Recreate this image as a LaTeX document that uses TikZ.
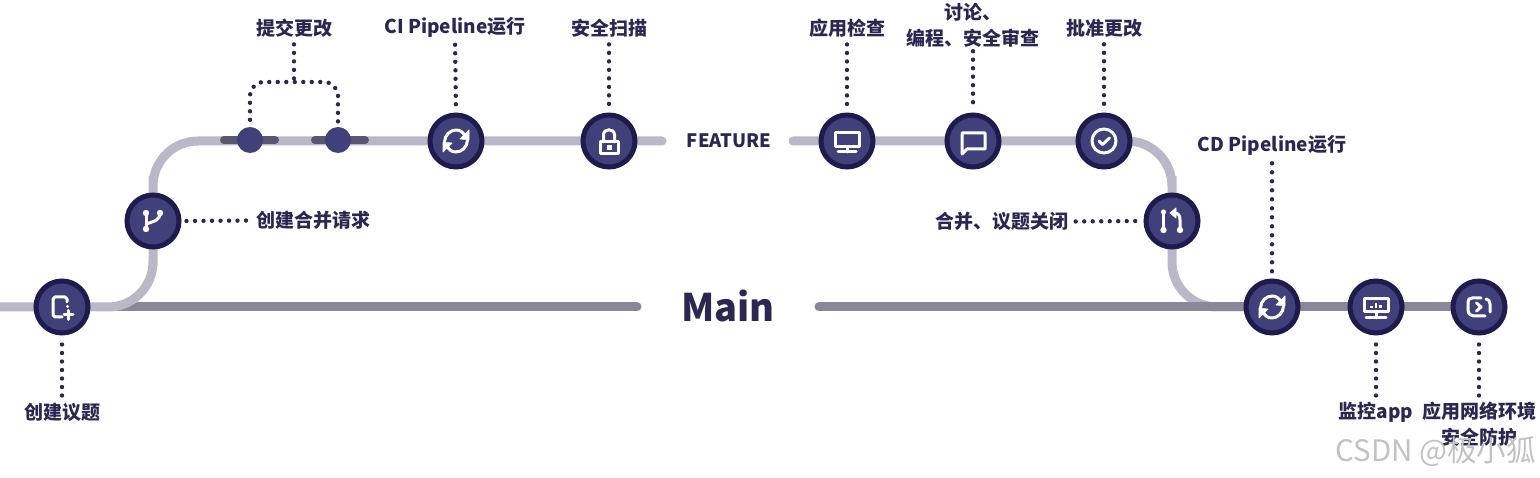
\documentclass[tikz,border=0pt]{standalone}
\usepackage{fontspec}
\setmainfont{Noto Sans CJK SC}
\usetikzlibrary{backgrounds}
\definecolor{lightln}{HTML}{BAB8C6}
\definecolor{darkln}{HTML}{8A8798}
\definecolor{segln}{HTML}{5A5570}
\definecolor{disc}{HTML}{40407A}
\definecolor{rim}{HTML}{1F1B4C}
\definecolor{ink}{HTML}{2A2850}
\tikzset{
  stage/.style={circle,fill=disc,draw=rim,line width=5pt,minimum size=52pt,inner sep=0pt},
  commit/.style={circle,fill=disc,minimum size=26pt,inner sep=0pt},
  lab/.style={font=\fontsize{19}{25.5}\selectfont\bfseries,text=ink,align=center,inner sep=0pt},
  dotln/.style={draw=ink,line width=4.4pt,line cap=round,dash pattern=on 0pt off 8.5pt},
  lightpath/.style={draw=lightln,line width=9pt,line cap=round,rounded corners=45pt},
  darkpath/.style={draw=darkln,line width=9pt,line cap=round},
  segpath/.style={draw=segln,line width=8pt,line cap=round},
  icon/.style={draw=white,line width=3pt,line cap=round,line join=round},
  iconfill/.style={fill=white,draw=white,line width=.8pt,line join=round}
}
\newcommand{\iconsync}{%
  \draw[icon] (-11.5,1) .. controls (-11.5,-6) and (-5.5,-11) .. (0,-11) .. controls (4,-11) and (7,-9) .. (8.5,-5.5);
  \fill[iconfill] (13,-11) -- (13,-1.5) -- (4,-2) -- cycle;
  \begin{scope}[rotate=180]
  \draw[icon] (-11.5,1) .. controls (-11.5,-6) and (-5.5,-11) .. (0,-11) .. controls (4,-11) and (7,-9) .. (8.5,-5.5);
  \fill[iconfill] (13,-11) -- (13,-1.5) -- (4,-2) -- cycle;
  \end{scope}}
\begin{document}
\begin{tikzpicture}[x=1pt,y=-1pt]
\useasboundingbox (0,0) rectangle (1540,478);
% stages
\node[stage] (issue) at (62,307) {};
\node[stage] (pr) at (153,221) {};
\node[stage] (ci) at (456,141) {};
\node[stage] (scan) at (609,141) {};
\node[stage] (review) at (847,141) {};
\node[stage] (talk) at (973,141) {};
\node[stage] (approve) at (1104,141) {};
\node[stage] (merged) at (1172,221) {};
\node[stage] (cd) at (1272,307) {};
\node[stage] (monitor) at (1376,307) {};
\node[stage] (protect) at (1479,307) {};
\node[commit] (c1) at (250,140) {};
\node[commit] (c2) at (338,140) {};
% free ends
\coordinate (west) at (-6,307);
\coordinate (fl) at (662,141);
\coordinate (fr) at (793,141);
\coordinate (ml0) at (118,307);
\coordinate (ml1) at (637,307);
\coordinate (mr0) at (819,307);
\coordinate (s1a) at (224,140);
\coordinate (s1b) at (275,140);
\coordinate (s2a) at (315,140);
\coordinate (s2b) at (365,140);
\coordinate (brace) at (294,82);
% labels
\node[lab] (lcommit) at (294,28) {提交更改};
\node[lab] (lci) at (455,27.5) {CI Pipeline运行};
\node[lab] (lscan) at (609,28) {安全扫描};
\node[lab] (lreview) at (847,28) {应用检查};
\node[lab,anchor=north] (ltalk) at (973,3) {讨论、\\编程、安全审查};
\node[lab] (lapprove) at (1104,28) {批准更改};
\node[lab] (lcd) at (1272,145) {CD Pipeline运行};
\node[lab] (lpr) at (313,220.5) {创建合并请求};
\node[lab] (lmerged) at (1002,221.5) {合并、议题关闭};
\node[lab] (lissue) at (62,412.5) {创建议题};
\node[lab] (lmonitor) at (1376,412.5) {监控app};
\node[lab,anchor=north] (lprotect) at (1479,402) {应用网络环境\\安全防护};
\node[font=\fontsize{18.5}{24}\selectfont\bfseries,text=ink,inner sep=0pt] (feature) at (729,141) {FEATURE};
\node[font=\fontsize{38}{44}\selectfont\bfseries,text=ink,inner sep=0pt] (main) at (728,306) {Main};
\node[font=\fontsize{29.5}{32}\selectfont,text=black!24,inner sep=0pt,anchor=east] (mark) at (1536,452) {CSDN @极小狐};
% lines
\begin{pgfonlayer}{background}
  \draw[lightpath] (fr) -| (merged.center) |- (cd.center);
  \draw[darkpath] (ml0) -- (ml1);
  \draw[darkpath] (mr0) -- (cd.center) -- (monitor.center) -- (protect.center);
  \draw[lightpath] (west) -| (pr.center) |- (fl);
  \draw[segpath] (s1a) -- (s1b);
  \draw[segpath] (s2a) -- (s2b);
\end{pgfonlayer}
% dotted leaders
\draw[dotln,shorten <=9pt,shorten >=5pt] (issue.south) -- (lissue.north);
\draw[dotln,shorten <=5pt,shorten >=7pt] (pr.east) -- (lpr.west);
\draw[dotln,shorten <=7pt] (lcommit.south) -- (brace);
\draw[dotln,rounded corners=14pt,shorten <=7pt] (c1.north) |- (brace) -| (c2.north);
\draw[dotln,shorten <=7pt,shorten >=7pt] (lci.south) -- (ci.north);
\draw[dotln,shorten <=7pt,shorten >=7pt] (lscan.south) -- (scan.north);
\draw[dotln,shorten <=7pt,shorten >=7pt] (lreview.south) -- (review.north);
\draw[dotln,shorten <=4pt,shorten >=9pt] (ltalk.south) -- (talk.north);
\draw[dotln,shorten <=7pt,shorten >=7pt] (lapprove.south) -- (approve.north);
\draw[dotln,shorten <=7pt,shorten >=5pt] (lmerged.east) -- (merged.west);
\draw[dotln,dash pattern=on 0pt off 9pt,shorten <=8pt,shorten >=5pt] (lcd.south) -- (cd.north);
\draw[dotln,shorten <=9pt,shorten >=5pt] (monitor.south) -- (lmonitor.north);
\draw[dotln,shorten <=9pt,shorten >=3pt] (protect.south) -- (lprotect.north);
% icons
\begin{scope}[shift={(issue.center)}]
  \draw[icon] (5,-5) -- (5,-8) -- (3,-10) -- (-7,-10) -- (-9,-8) -- (-9,8) -- (-7,10) -- (0,10);
  \fill[white] (5.5,-0.5) circle (1.6);
  \draw[icon] (2,8) -- (11,8) (6.5,3.5) -- (6.5,12.5);
\end{scope}
\begin{scope}[shift={(pr.center)}]
  \draw[icon] (-7,-8) -- (-7,8);
  \draw[icon] (7,-8) .. controls (7,-1) and (2,0) .. (-7,3);
  \foreach \p in {(-7,-8),(-7,8),(7,-8)} \fill[white] \p circle (3.2);
\end{scope}
\begin{scope}[shift={(ci.center)}]\iconsync\end{scope}
\begin{scope}[shift={(cd.center)}]\iconsync\end{scope}
\begin{scope}[shift={(scan.center)}]
  \draw[icon] (-9,1) rectangle (9,13);
  \draw[icon] (-5.5,1) -- (-5.5,-6) .. controls (-5.5,-13) and (5.5,-13) .. (5.5,-6) -- (5.5,1);
  \fill[white] (-2.5,4.5) rectangle (2.5,9.5);
\end{scope}
\begin{scope}[shift={(review.center)}]
  \draw[icon] (-12,-8) rectangle (12,6);
  \draw[icon] (0,6) -- (0,11) (-9,11) -- (9,11);
\end{scope}
\begin{scope}[shift={(talk.center)}]
  \draw[icon] (-11,13) -- (-11,-8) -- (12,-8) -- (12,8) -- (-6,8) -- cycle;
\end{scope}
\begin{scope}[shift={(approve.center)}]
  \draw[icon] (0,0) circle (12);
  \draw[icon] (-5,0) -- (-1.5,3.5) -- (5.5,-3);
\end{scope}
\begin{scope}[shift={(merged.center)}]
  \draw[icon] (-8.5,-9) -- (-8.5,9);
  \fill[white] (-8.5,9) circle (3.2);
  \fill[white] (-8.5,-9) circle (2.6);
  \draw[icon] (8,9) -- (8,-1) .. controls (8,-6) and (6,-8) .. (2,-8);
  \fill[white] (8,9) circle (3.2);
  \fill[iconfill] (4,-13) -- (4,-3) -- (-2,-8) -- cycle;
\end{scope}
\begin{scope}[shift={(monitor.center)}]
  \draw[icon] (-12,-8) rectangle (12,5);
  \draw[icon] (0,5) -- (0,11) (-10,11) -- (10,11);
  \fill[white] (-6,-1) rectangle (-3.5,1.5);
  \fill[white] (-1.5,-4) rectangle (1,1.5);
  \fill[white] (3,-2) rectangle (5.5,1.5);
\end{scope}
\begin{scope}[shift={(protect.center)}]
  \draw[icon] (2,-9) -- (-7,-9) .. controls (-9.5,-9) and (-11,-7.5) .. (-11,-5) -- (-11,3) .. controls (-11,7) and (-8,9) .. (-4,9) -- (6,9);
  \draw[icon] (7,-8) .. controls (9.5,-7.5) and (11,-6) .. (11,-3) -- (11,5);
  \draw[icon] (-2.5,-4) -- (2,0) -- (-2.5,4);
\end{scope}
\end{tikzpicture}
\end{document}
